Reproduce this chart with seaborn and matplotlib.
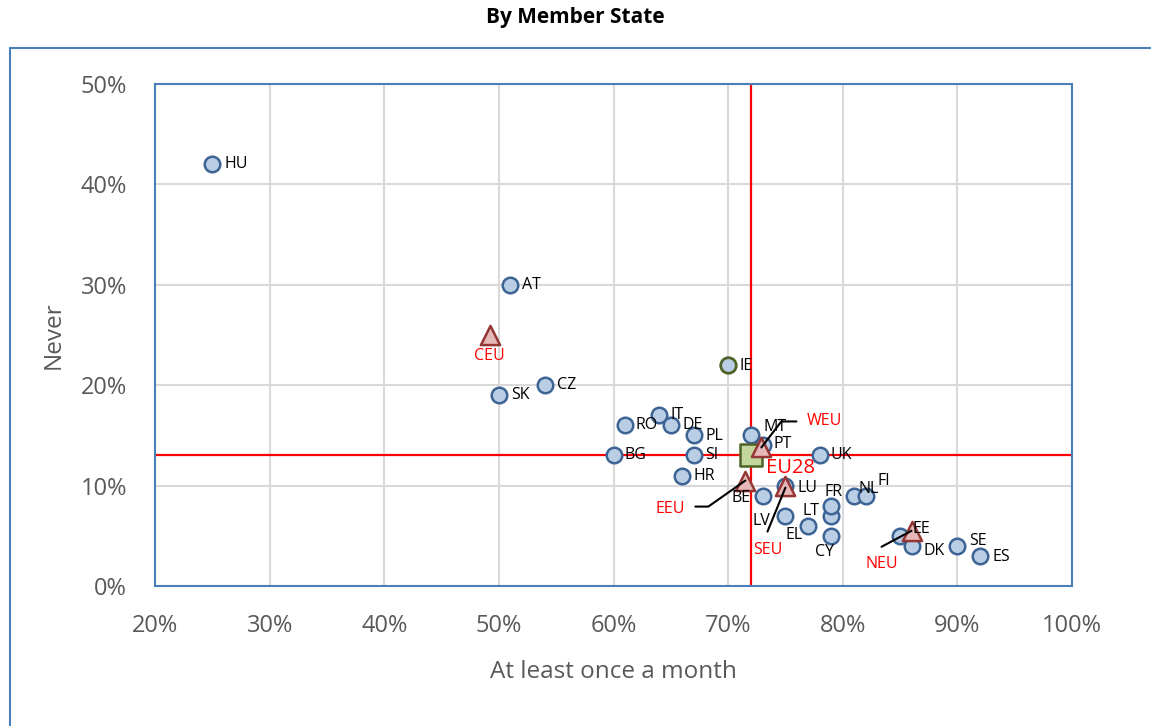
"""Scatter of 'never' vs 'at least once a month' by member state."""

import matplotlib.pyplot as plt
import matplotlib.transforms as mtransforms
import pandas as pd
import seaborn as sns
from matplotlib.lines import Line2D
from matplotlib.ticker import PercentFormatter

sns.set_theme(style="white")
plt.rcParams["font.family"] = ["Open Sans", "DejaVu Sans"]

# country values (%)
countries = ["HU", "AT", "CZ", "SK", "IT", "RO", "DE", "PL", "MT", "PT", "BG", "SI",
             "UK", "HR", "BE", "LU", "LV", "EL", "LT", "FR", "CY", "NL", "FI", "EE",
             "DK", "SE", "ES"]
monthly = [25, 51, 54, 50, 64, 61, 65, 67, 72, 73, 60, 67,
           78, 66, 73, 75, 75, 77, 79, 79, 79, 81, 82, 85,
           86, 90, 92]
never = [42, 30, 20, 19, 17, 16, 16, 15, 15, 14, 13, 13,
         13, 11, 9, 10, 7, 6, 7, 8, 5, 9, 9, 5,
         4, 4, 3]

# Ireland is highlighted separately
ie_label = ["IE"]
ie_monthly = [70]
ie_never = [22]

# regional groups
regions = ["CEU", "WEU", "EEU", "SEU", "NEU"]
reg_monthly = [49.2, 72.9, 71.5, 75, 86]
reg_never = [25, 13.8, 10.5, 10, 5.5]

# EU28 average
eu_monthly = 72
eu_never = 13

# label placement: pixel offset (dx, dy down), alignment
label_pos = {
    "HU": (12, 0, "left"), "AT": (12, 0, "left"), "CZ": (12, 0, "left"),
    "SK": (12, 0, "left"), "IT": (11, 0, "left"), "RO": (11, 0, "left"),
    "DE": (12, 0, "left"), "PL": (12, 1, "left"), "MT": (12, -8, "left"),
    "PT": (11, -1, "left"), "BG": (11, 0, "left"), "SI": (11, 0, "left"),
    "UK": (11, 0, "left"), "HR": (11, 0, "left"), "BE": (-12, 2, "right"),
    "LU": (12, 2, "left"), "LV": (-15, 5, "right"), "EL": (-6, 9, "right"),
    "LT": (-12, -5, "right"), "FR": (2, -14, "center"), "CY": (-7, 16, "center"),
    "NL": (4, -7, "left"), "FI": (12, -15, "left"), "EE": (12, -7, "left"),
    "DK": (12, 5, "left"), "SE": (12, -5, "left"), "ES": (12, 1, "left"),
    "IE": (11, 1, "left"),
}

# region label: text offset + leader polyline (pixels, dy down)
region_pos = {
    "CEU": ((0, 21, "center"), []),
    "WEU": ((45, -26, "left"), [(0, 0), (20, -26), (35, -26)]),
    "EEU": ((-60, 28, "right"), [(0, 0), (-37, 26), (-50, 26)]),
    "SEU": ((-18, 64, "center"), [(0, 2), (-18, 46)]),
    "NEU": ((-30, 33, "center"), [(0, 0), (-30, 16)]),
}

df = pd.DataFrame({"country": countries, "monthly": monthly, "never": never})
df_ie = pd.DataFrame({"country": ie_label, "monthly": ie_monthly, "never": ie_never})
df_reg = pd.DataFrame({"region": regions, "monthly": reg_monthly, "never": reg_never})
df_eu = pd.DataFrame({"monthly": [eu_monthly], "never": [eu_never]})

fig = plt.figure(figsize=(11.51, 7.26), dpi=100)
ax = fig.add_axes([155 / 1151, 1 - 586 / 726, 917 / 1151, 502 / 726])

ax.axvline(eu_monthly, color="#FF0000", lw=1.6, zorder=2)
ax.axhline(eu_never, color="#FF0000", lw=1.6, zorder=2)

sns.scatterplot(data=df, x="monthly", y="never", s=125, color="#B9CDE5",
                edgecolor="#3C6494", linewidth=1.8, zorder=3, ax=ax)
sns.scatterplot(data=df_ie, x="monthly", y="never", s=125, color="#B9CDE5",
                edgecolor="#4F6228", linewidth=2.0, zorder=3, ax=ax)
sns.scatterplot(data=df_reg, x="monthly", y="never", s=190, marker="^",
                color="#E6B9B8", edgecolor="#953735", linewidth=1.8, zorder=4, ax=ax)
sns.scatterplot(data=df_eu, x="monthly", y="never", s=260, marker="s",
                color="#C3D69B", edgecolor="#4F6228", linewidth=1.8, zorder=3, ax=ax)


def px_transform(x, y):
    # offsets in pixels anchored at a data point
    return mtransforms.Affine2D().scale(1, -1) + mtransforms.ScaledTranslation(x, y, ax.transData)


for name, xv, yv in zip(countries + ie_label, monthly + ie_monthly, never + ie_never):
    dx, dy, ha = label_pos[name]
    ax.text(dx, dy, name, transform=px_transform(xv, yv), ha=ha, va="center",
            fontsize=11.5, color="#000000", zorder=5)

for name, xv, yv in zip(regions, reg_monthly, reg_never):
    (dx, dy, ha), line = region_pos[name]
    tr = px_transform(xv, yv)
    ax.text(dx, dy, name, transform=tr, ha=ha, va="center", fontsize=11.5,
            color="#FF0000", zorder=5)
    if line:
        ax.plot([p[0] for p in line], [p[1] for p in line], transform=tr,
                color="#000000", lw=1.5, zorder=5)

ax.text(15, 13, "EU28", transform=px_transform(eu_monthly, eu_never), ha="left",
        va="center", fontsize=14.5, color="#FF0000", zorder=5)

ax.set_xlim(20, 100)
ax.set_ylim(0, 50)
ax.set_xticks(range(20, 101, 10))
ax.set_yticks(range(0, 51, 10))
ax.xaxis.set_major_formatter(PercentFormatter(decimals=0))
ax.yaxis.set_major_formatter(PercentFormatter(decimals=0))
ax.tick_params(axis="both", length=0, labelsize=17, labelcolor="#595959")
ax.tick_params(axis="x", pad=20)
ax.tick_params(axis="y", pad=20)
ax.grid(True, color="#D9D9D9", lw=1.5)
ax.set_axisbelow(True)
for sp in ax.spines.values():
    sp.set_color("#4A7EBB")
    sp.set_linewidth(1.5)

ax.set_xlabel("At least once a month", fontsize=17.5, color="#595959", labelpad=16)
ax.set_ylabel("Never", fontsize=17.5, color="#595959", labelpad=11)

fig.text(0.5, 1 - 17 / 726, "By Member State", ha="center", va="center",
         fontsize=15, fontweight="bold", color="#000000")

# outer chart frame (cut off at the right and bottom)
fig.add_artist(Line2D([10 / 1151, 10 / 1151], [0, 1 - 48 / 726], transform=fig.transFigure,
                      color="#4A7EBB", lw=1.5))
fig.add_artist(Line2D([10 / 1151, 1], [1 - 48 / 726, 1 - 48 / 726], transform=fig.transFigure,
                      color="#4A7EBB", lw=1.5))

fig.savefig("out.png", dpi=100)
